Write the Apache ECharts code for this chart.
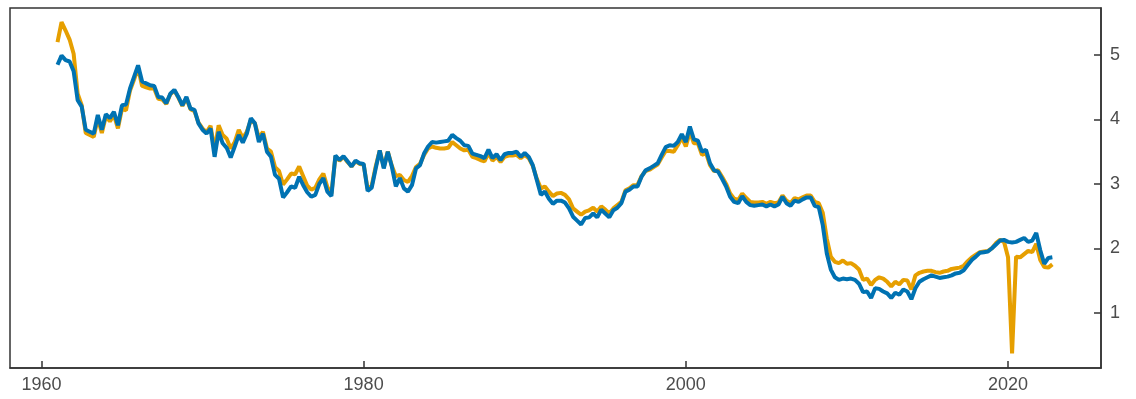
<!DOCTYPE html>
<html>
<head>
<meta charset="utf-8">
<script src="https://cdn.jsdelivr.net/npm/echarts@6/dist/echarts.min.js"></script>
<style>
  html, body { margin: 0; padding: 0; background: #fff; }
  #chart { width: 1136px; height: 399px; }
</style>
</head>
<body>
<div id="chart"></div>
<script>
// Quarterly observations, first quarter = 1961 Q1
const firstYear = 1961;
const quarterStep = 0.25;

const seriesOrange = [
  5.20, 5.51, 5.38, 5.24, 5.02, 4.40, 4.22, 3.79, 3.76, 3.73,
  4.02, 3.79, 4.05, 3.97, 4.07, 3.86, 4.17, 4.14, 4.45, 4.62,
  4.80, 4.52, 4.50, 4.48, 4.48, 4.32, 4.31, 4.24, 4.39, 4.45,
  4.34, 4.21, 4.33, 4.16, 4.13, 3.95, 3.86, 3.80, 3.90, 3.52,
  3.91, 3.76, 3.70, 3.55, 3.65, 3.84, 3.71, 3.81, 3.99, 3.94,
  3.71, 3.81, 3.55, 3.50, 3.26, 3.20, 2.99, 3.07, 3.16, 3.15,
  3.27, 3.12, 2.97, 2.91, 2.94, 3.07, 3.16, 2.95, 2.85, 3.43,
  3.36, 3.42, 3.34, 3.27, 3.35, 3.31, 3.30, 2.92, 2.97, 3.27,
  3.52, 3.26, 3.50, 3.28, 3.12, 3.14, 3.06, 3.03, 3.12, 3.26,
  3.31, 3.45, 3.55, 3.58, 3.56, 3.55, 3.55, 3.56, 3.65, 3.60,
  3.55, 3.52, 3.53, 3.42, 3.40, 3.37, 3.35, 3.48, 3.36, 3.42,
  3.34, 3.42, 3.44, 3.44, 3.45, 3.40, 3.45, 3.40, 3.28, 3.08,
  2.93, 2.96, 2.88, 2.81, 2.85, 2.86, 2.83, 2.76, 2.62, 2.57,
  2.52, 2.57, 2.59, 2.63, 2.57, 2.65, 2.60, 2.54, 2.62, 2.67,
  2.72, 2.90, 2.93, 2.98, 2.98, 3.12, 3.20, 3.22, 3.26, 3.30,
  3.41, 3.51, 3.51, 3.50, 3.60, 3.72, 3.58, 3.81, 3.63, 3.63,
  3.45, 3.48, 3.29, 3.20, 3.21, 3.11, 3.00, 2.85, 2.77, 2.75,
  2.85, 2.78, 2.72, 2.71, 2.71, 2.72, 2.69, 2.72, 2.70, 2.71,
  2.82, 2.74, 2.70, 2.78, 2.76, 2.79, 2.82, 2.82, 2.72, 2.70,
  2.55, 2.15, 1.87, 1.79, 1.77, 1.81, 1.76, 1.77, 1.73, 1.67,
  1.51, 1.53, 1.43, 1.51, 1.55, 1.53, 1.48, 1.41, 1.48, 1.44,
  1.51, 1.50, 1.36, 1.58, 1.62, 1.64, 1.65, 1.65, 1.63, 1.62,
  1.64, 1.65, 1.68, 1.69, 1.70, 1.73, 1.80, 1.86, 1.90, 1.94,
  1.95, 1.96, 2.00, 2.08, 2.13, 2.10, 1.86, 0.37, 1.87, 1.86,
  1.91, 1.96, 1.94, 2.07, 1.82, 1.71, 1.70, 1.75
];

const seriesBlue = [
  4.85, 4.99, 4.92, 4.90, 4.75, 4.30, 4.20, 3.84, 3.81, 3.78,
  4.07, 3.84, 4.08, 4.02, 4.12, 3.91, 4.22, 4.23, 4.48, 4.66,
  4.84, 4.59, 4.56, 4.53, 4.52, 4.35, 4.34, 4.25, 4.40, 4.46,
  4.35, 4.22, 4.35, 4.17, 4.15, 3.94, 3.84, 3.78, 3.86, 3.42,
  3.81, 3.63, 3.56, 3.41, 3.58, 3.76, 3.64, 3.78, 4.02, 3.94,
  3.65, 3.78, 3.50, 3.42, 3.14, 3.08, 2.79, 2.87, 2.96, 2.94,
  3.11, 2.98, 2.87, 2.80, 2.83, 3.00, 3.09, 2.88, 2.81, 3.44,
  3.37, 3.43, 3.35, 3.27, 3.36, 3.32, 3.31, 2.89, 2.94, 3.24,
  3.52, 3.24, 3.50, 3.27, 2.96, 3.09, 2.93, 2.88, 2.98, 3.24,
  3.29, 3.47, 3.58, 3.65, 3.64, 3.65, 3.66, 3.67, 3.76, 3.71,
  3.67, 3.60, 3.59, 3.47, 3.45, 3.43, 3.40, 3.53, 3.40, 3.46,
  3.37, 3.46, 3.48, 3.48, 3.50, 3.42, 3.48, 3.42, 3.29, 3.06,
  2.83, 2.88, 2.77, 2.69, 2.74, 2.74, 2.71, 2.62, 2.49, 2.43,
  2.37, 2.47, 2.48, 2.54, 2.48, 2.60, 2.54, 2.48, 2.59, 2.63,
  2.70, 2.88, 2.91, 2.96, 2.96, 3.11, 3.21, 3.24, 3.28, 3.32,
  3.45, 3.57, 3.60, 3.59, 3.65, 3.77, 3.65, 3.89, 3.69, 3.67,
  3.50, 3.53, 3.32, 3.21, 3.19, 3.08, 2.96, 2.80, 2.72, 2.70,
  2.81, 2.72, 2.67, 2.66, 2.67, 2.68, 2.65, 2.68, 2.65, 2.68,
  2.80, 2.70, 2.66, 2.74, 2.72, 2.76, 2.79, 2.79, 2.66, 2.64,
  2.36, 1.92, 1.67, 1.55, 1.51, 1.53, 1.52, 1.53, 1.51, 1.45,
  1.32, 1.33, 1.23, 1.38, 1.37, 1.33, 1.30, 1.23, 1.31, 1.28,
  1.36, 1.33, 1.21, 1.38, 1.48, 1.52, 1.55, 1.58, 1.56, 1.54,
  1.55, 1.56, 1.58, 1.61, 1.62, 1.66, 1.74, 1.82, 1.87, 1.93,
  1.94, 1.95, 2.00, 2.06, 2.12, 2.13, 2.10, 2.09, 2.10, 2.13,
  2.16, 2.10, 2.12, 2.24, 1.97, 1.76, 1.85, 1.86
];

const xTickLabels = [1960, 1980, 2000, 2020];
const yTickLabels = [1, 2, 3, 4, 5];

function toPairs(values) {
  return values.map((v, i) => [firstYear + i * quarterStep, v]);
}

const axisColor = '#333333';
const labelStyle = {
  color: '#4d4d4d',
  fontSize: 18,
  fontFamily: 'Liberation Sans, Arial, sans-serif',
  formatter: (v) => String(v)
};

const chart = echarts.init(document.getElementById('chart'), null, { renderer: 'canvas' });
chart.setOption({
  animation: false,
  backgroundColor: '#ffffff',
  grid: {
    left: 10, right: 35, top: 8, bottom: 31,
    show: true, borderColor: axisColor, borderWidth: 1.5, backgroundColor: 'transparent'
  },
  xAxis: {
    type: 'value',
    min: 1958.05,
    max: 2025.77,
    axisLine: { show: true, lineStyle: { color: axisColor, width: 1.5 } },
    axisTick: { show: true, inside: true, length: 7, customValues: xTickLabels, lineStyle: { color: axisColor, width: 1.5 } },
    axisLabel: Object.assign({ customValues: xTickLabels, margin: 8 }, labelStyle),
    splitLine: { show: false }
  },
  yAxis: {
    type: 'value',
    position: 'right',
    min: 0.142,
    max: 5.73,
    axisLine: { show: true, lineStyle: { color: axisColor, width: 1.5 } },
    axisTick: { show: true, inside: true, length: 7, customValues: yTickLabels, lineStyle: { color: axisColor, width: 1.5 } },
    axisLabel: Object.assign({ customValues: yTickLabels, margin: 9 }, labelStyle),
    splitLine: { show: false }
  },
  series: [
    {
      type: 'line',
      data: toPairs(seriesOrange),
      showSymbol: false,
      symbol: 'none',
      lineStyle: { color: '#E69F00', width: 4 },
      itemStyle: { color: '#E69F00' },
      z: 2
    },
    {
      type: 'line',
      data: toPairs(seriesBlue),
      showSymbol: false,
      symbol: 'none',
      lineStyle: { color: '#0072B2', width: 4 },
      itemStyle: { color: '#0072B2' },
      z: 3
    }
  ]
});
</script>
</body>
</html>
